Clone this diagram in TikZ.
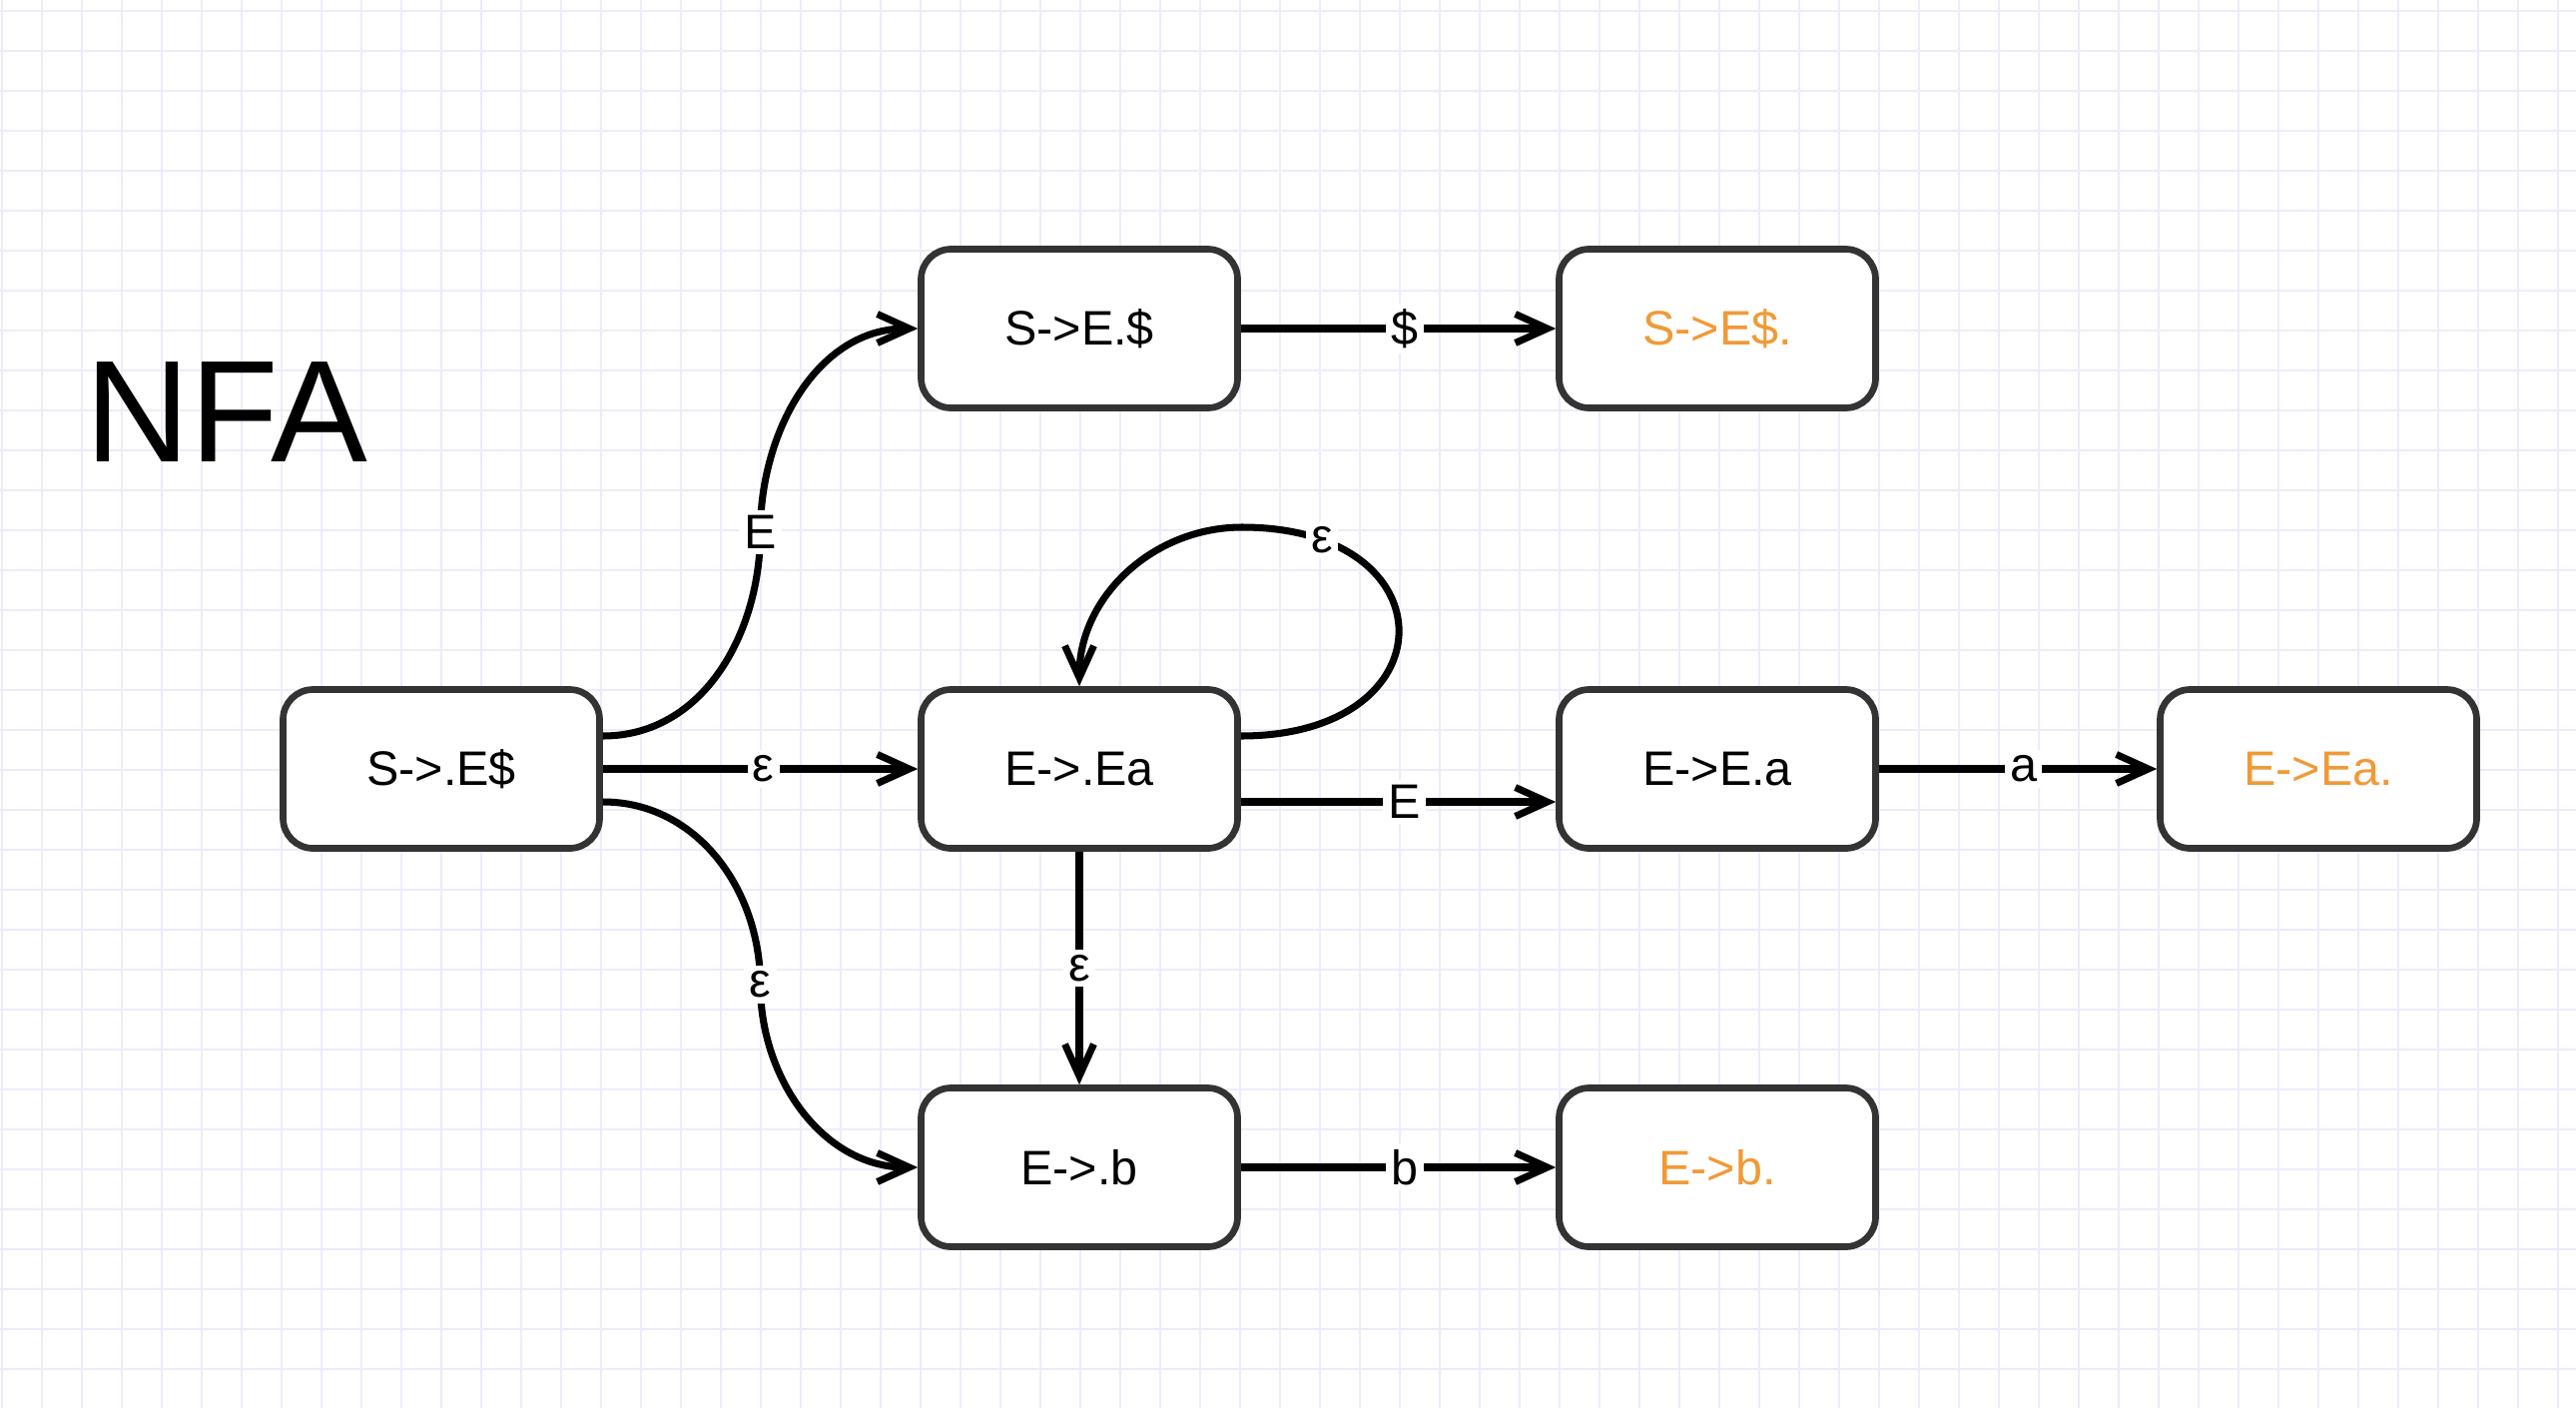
\documentclass[tikz,border=0pt]{standalone}
\usepackage{fontspec}
\setmainfont{Liberation Sans}
\usetikzlibrary{arrows.meta,positioning,calc}
\definecolor{gridcol}{RGB}{236,236,250}
\definecolor{finalcol}{RGB}{240,154,55}
\definecolor{boxcol}{RGB}{51,51,51}

\begin{document}
\begin{tikzpicture}[
    state/.style={draw=boxcol, line width=1.9pt, rounded corners=3mm, fill=white,
        minimum width=3.17cm, minimum height=1.59cm, font=\fontsize{13.8}{16}\selectfont},
    final/.style={state, text=finalcol},
    trans/.style={line width=2pt, -{Straight Barb[length=3.2mm,width=2.9mm]}},
    lbl/.style={fill=white, inner sep=1.5pt, font=\fontsize{13.8}{16}\selectfont}
]
    % Canvas and grid
    \useasboundingbox (0,0) rectangle (25.8,14.1);
    \fill[white] (0,0) rectangle (25.8,14.1);
    \foreach \x in {0,...,64}
        \draw[gridcol, line width=0.4pt] (0.02+0.4*\x,0) -- (0.02+0.4*\x,14.1);
    \foreach \y in {0,...,34}
        \draw[gridcol, line width=0.4pt] (0,0.39+0.4*\y) -- (25.8,0.39+0.4*\y);

    % Title
    \node[anchor=base west, inner sep=0, font=\fontsize{41.3}{48}\selectfont] (title) at (0.85,9.48) {NFA};

    % States
    \node[state] (s0) at (4.42,6.40) {S->.E\$};
    \node[state] (s1) at (10.81,10.81) {S->E.\$};
    \node[final] (s2) at (17.20,10.81) {S->E\$.};
    \node[state] (e0) at (10.81,6.40) {E->.Ea};
    \node[state] (e1) at (17.20,6.40) {E->E.a};
    \node[final] (e2) at (23.22,6.40) {E->Ea.};
    \node[state] (b0) at (10.81,2.41) {E->.b};
    \node[final] (b1) at (17.20,2.41) {E->b.};

    % Waypoints of the curved transitions
    \coordinate (up) at ($([yshift=3.3mm]s0.east)!.5!(s1.west)$);
    \coordinate (dn) at ($([yshift=-3.3mm]s0.east)!.5!(b0.west)$);
    \coordinate (looptop) at (12.44,8.82);

    % Transitions
    \draw[trans] ([yshift=3.3mm]s0.east) to[out=0,in=-90] (up) to[out=90,in=180] (s1.west);
    \node[lbl] (lup) at (up) {E};
    \draw[trans] (s0) -- node[lbl,pos=0.51] (leps0) {ε} (e0);
    \draw[trans] ([yshift=-3.3mm]s0.east) to[out=0,in=90] (dn) to[out=-90,in=180] (b0.west);
    \node[lbl] (ldn) at (dn) {ε};
    \draw[trans] ([yshift=3.3mm]e0.east) to[out=0,in=0,looseness=2.57] node[lbl,pos=0.85] (lloop) {ε} (looptop)
        to[out=180,in=90] (e0.north);
    \draw[trans] ([yshift=-3.3mm]e0.east) -- node[lbl,pos=0.52] (lE) {E} ([yshift=-3.3mm]e1.west);
    \draw[trans] (e0) -- node[lbl] (leps1) {ε} (b0);
    \draw[trans] (s1) -- node[lbl,pos=0.52] (ldollar) {\$} (s2);
    \draw[trans] (e1) -- node[lbl,pos=0.52] (la) {a} (e2);
    \draw[trans] (b0) -- node[lbl,pos=0.52] (lb) {b} (b1);
\end{tikzpicture}
\end{document}
